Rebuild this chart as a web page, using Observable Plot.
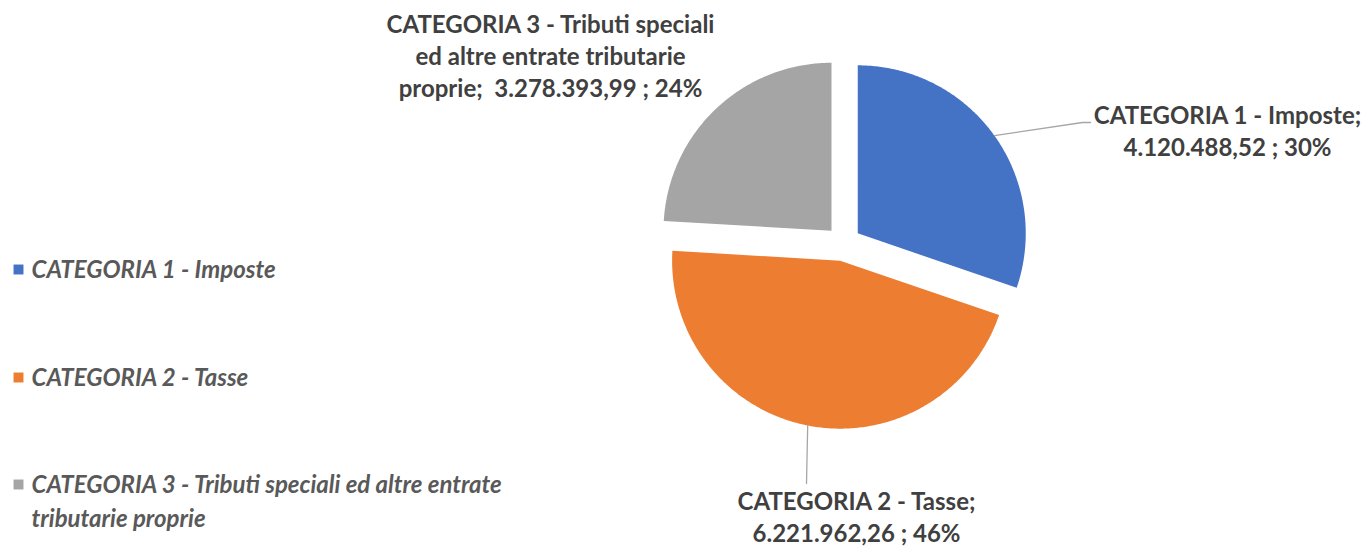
<!DOCTYPE html>
<html><head><meta charset="utf-8">
<script src="https://cdn.jsdelivr.net/npm/d3@7"></script>
<script src="https://cdn.jsdelivr.net/npm/@observablehq/plot@0.6"></script>
<style>body{margin:0;background:#fff} svg{display:block}</style>
</head><body><div id="chart"></div>
<script>
// ---- data ----
const categories = ["CATEGORIA 1 - Imposte", "CATEGORIA 2 - Tasse", "CATEGORIA 3 - Tributi speciali ed altre entrate tributarie proprie"];
const values = [4120488.52, 6221962.26, 3278393.99];
const colors = ["#4472C4", "#ED7D31", "#A5A5A5"];
const legendLabels = ["CATEGORIA 1 - Imposte", "CATEGORIA 2 - Tasse", "CATEGORIA 3 - Tributi speciali ed altre entrate\ntributarie proprie"];
const labelHeads = ["CATEGORIA 1 - Imposte;\n", "CATEGORIA 2 - Tasse;\n", "CATEGORIA 3 - Tributi speciali\ned altre entrate tributarie\nproprie;  "];

// ---- layout ----
const W = 1365, H = 546;
const cx = 843, cy = 243, R = 168, explode = 17.5;
const labelPos = [[1227, 129], [856, 515.5], [550, 54]];
const leaderEnds = [[[1082, 122], [1090, 122]], [[806, 483]], []];
const legendPos = [[18, 269], [18, 377], [18, 484]];
const legendLH = 34;

const it = d3.formatLocale({decimal: ",", thousands: ".", grouping: [3], currency: ["€", ""]});
const fmt = it.format(",.2f");
const total = d3.sum(values);

const arcs = d3.pie().sort(null).value(d => d)(values);
const polys = [];
const slices = arcs.map((a, i) => {
  const mid = (a.startAngle + a.endAngle) / 2;
  const ox = cx + explode * Math.sin(mid), oy = cy - explode * Math.cos(mid);
  const cat = categories[i];
  polys.push({cat, x: ox, y: oy});
  const n = Math.ceil((a.endAngle - a.startAngle) / 0.01);
  for (let k = 0; k <= n; ++k) {
    const t = a.startAngle + (a.endAngle - a.startAngle) * k / n;
    polys.push({cat, x: ox + R * Math.sin(t), y: oy - R * Math.cos(t)});
  }
  polys.push({cat, x: ox, y: oy});
  return {cat, mid, ox, oy, i};
});

const leaders = [];
slices.forEach(s => {
  const ends = leaderEnds[s.i];
  if (!ends.length) return;
  leaders.push({g: s.i, x: s.ox + R * Math.sin(s.mid), y: s.oy - R * Math.cos(s.mid)});
  ends.forEach(([x, y]) => leaders.push({g: s.i, x, y}));
});

const labels = values.map((v, i) => ({
  x: labelPos[i][0], y: labelPos[i][1],
  text: labelHeads[i] + fmt(v) + " ; " + Math.round(v / total * 100) + "%"
}));

const legend = categories.map((c, i) => ({
  cat: c, x: legendPos[i][0], y: legendPos[i][1],
  ty: legendPos[i][1] - 2.5 + (legendLabels[i].split("\n").length - 1) * legendLH / 2,
  text: legendLabels[i]
}));

const chart = Plot.plot({
  width: W, height: H, margin: 0,
  style: {background: "#fff"},
  x: {domain: [0, W], range: [0, W], axis: null},
  y: {domain: [0, H], range: [0, H], axis: null},
  color: {domain: categories, range: colors},
  marks: [
    Plot.line(polys, {x: "x", y: "y", z: "cat", fill: "cat", stroke: "none", curve: "linear"}),
    Plot.line(leaders, {x: "x", y: "y", z: "g", stroke: "#A6A6A6", strokeWidth: 1.3}),
    Plot.text(labels, {x: "x", y: "y", text: "text", fill: "#404040", fontSize: 24, fontWeight: "bold",
      fontFamily: "Lato, 'Open Sans', sans-serif", lineHeight: 1.33, textAnchor: "middle", lineAnchor: "middle"}),
    Plot.dot(legend, {x: "x", y: "y", fill: "cat", symbol: "square", r: 5.6}),
    Plot.text(legend, {x: d => d.x + 13, y: "ty", text: "text", fill: "#595959", fontSize: 24, fontWeight: "bold",
      fontStyle: "italic", fontFamily: "Lato, 'Open Sans', sans-serif", lineHeight: 1.42, textAnchor: "start", lineAnchor: "middle"})
  ]
});
document.getElementById("chart").append(chart);
</script>
</body></html>
